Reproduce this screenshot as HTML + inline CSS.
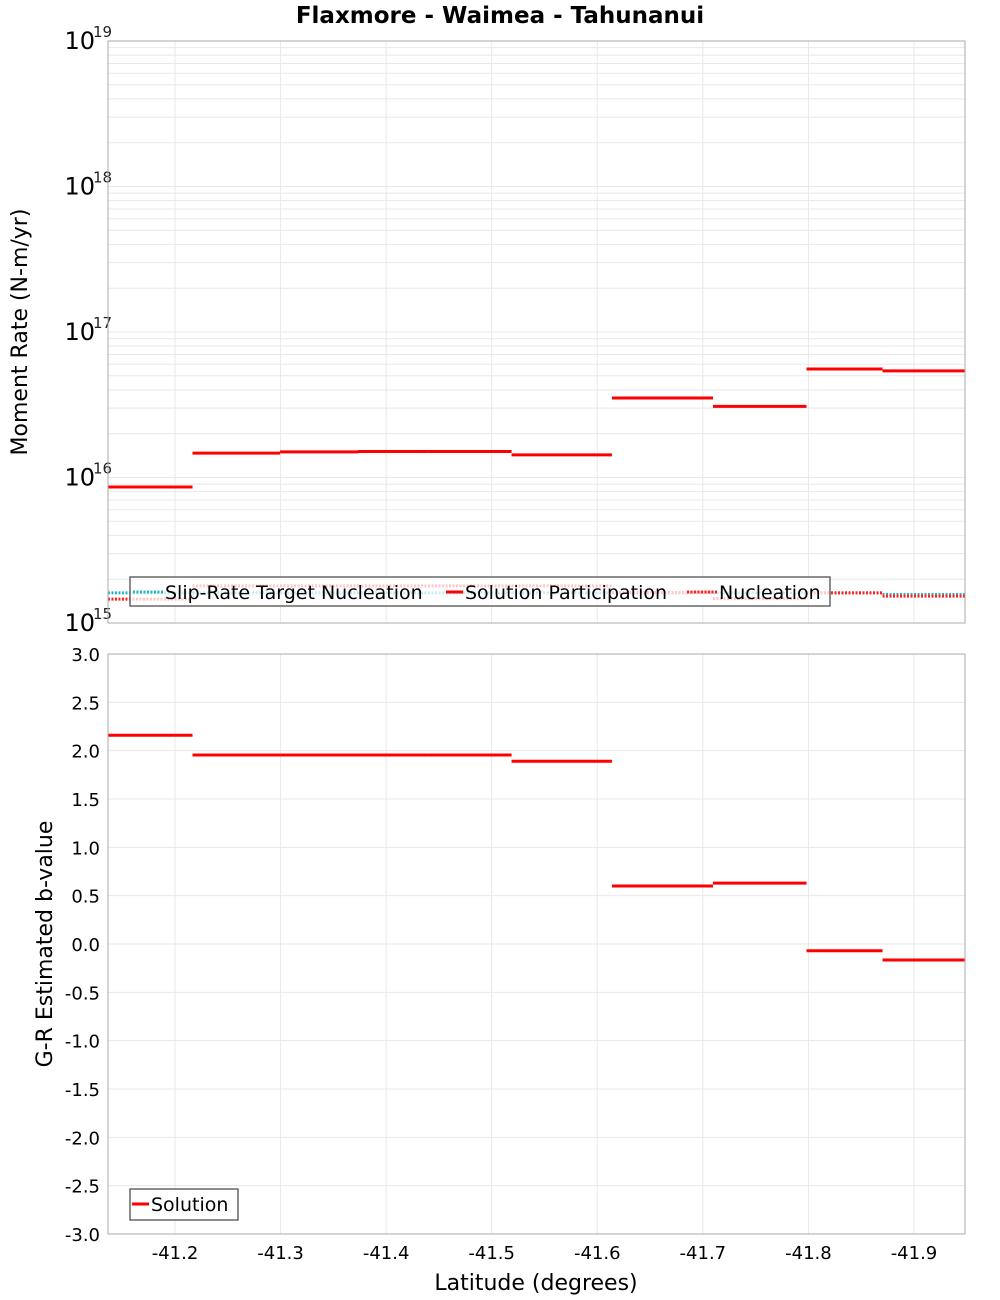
<!DOCTYPE html>
<html><head><meta charset="utf-8"><style>
body{margin:0;background:#fff;}
svg{display:block;font-family:"DejaVu Sans","Liberation Sans",sans-serif;}
</style></head><body>
<svg id="chart" width="1000" height="1300" xmlns="http://www.w3.org/2000/svg">
<text x="500" y="23" text-anchor="middle" font-size="23" font-weight="bold">Flaxmore - Waimea - Tahunanui</text>
<g id="topPlot"></g><g id="botPlot"></g>
<text transform="translate(27,332) rotate(-90)" text-anchor="middle" font-size="22">Moment Rate (N-m/yr)</text>
<text transform="translate(52,944) rotate(-90)" text-anchor="middle" font-size="22">G-R Estimated b-value</text>
<text x="536" y="1290" text-anchor="middle" font-size="22">Latitude (degrees)</text>
</svg>
<script>
const bounds=[-41.1365,-41.2166,-41.2995,-41.3733,-41.4397,-41.5188,-41.6139,-41.7096,-41.7982,-41.8702,-41.9483];
const participation=[8.6e15,1.47e16,1.50e16,1.51e16,1.51e16,1.43e16,3.52e16,3.08e16,5.57e16,5.4e16];
const targetNucleation=[1.61e15,1.61e15,1.61e15,1.61e15,1.61e15,1.61e15,1.61e15,1.61e15,1.61e15,1.57e15];
const nucleation=[1.46e15,1.8e15,1.8e15,1.8e15,1.8e15,1.8e15,1.62e15,1.47e15,1.61e15,1.53e15];
const bValues=[2.16,1.955,1.955,1.955,1.955,1.89,0.60,0.63,-0.07,-0.165];
const xTicks=[-41.2,-41.3,-41.4,-41.5,-41.6,-41.7,-41.8,-41.9];
const decades=[15,16,17,18,19];
const bTicks=[3,2.5,2,1.5,1,0.5,0,-0.5,-1,-1.5,-2,-2.5,-3];
const NS="http://www.w3.org/2000/svg";
const L=108,R=965;
const xs=v=>175+(-41.2-v)*1055.7;
const ysTop=v=>623-(Math.log10(v)-15)*145.5;
const ysBot=v=>654+(3-v)*96.667;
function mk(p,t,a){const e=document.createElementNS(NS,t);for(const k in a)e.setAttribute(k,a[k]);p.appendChild(e);return e;}
const topG=document.getElementById('topPlot'),botG=document.getElementById('botPlot');
for(let d=15;d<19;d++)for(let m=1;m<10;m++){const y=ysTop(m*Math.pow(10,d));
 const g=mk(topG,'line',{x1:L,x2:R,y1:y,y2:y,stroke:'#e8e8e8','stroke-width':1});
 
 }
xTicks.forEach(t=>{[[topG,41,623],[botG,654,1234]].forEach(([p,a,b])=>{const g=mk(p,'line',{x1:xs(t),x2:xs(t),y1:a,y2:b,stroke:'#e8e8e8'});
 
 });
 const tx=mk(botG,'text',{x:xs(t),y:1259,'text-anchor':'middle','font-size':18});tx.textContent=t.toFixed(1);
 
 });
decades.forEach(d=>{const y=ysTop(Math.pow(10,d));
 const tx=mk(topG,'text',{x:95,y:y+8,'text-anchor':'end','font-size':24});tx.textContent='10';
 
 
 const ex=mk(topG,'text',{x:93,y:y-4,'font-size':15,fill:'#222'});ex.textContent=String(d);
 
 });
bTicks.forEach(t=>{const y=ysBot(t);
 const g=mk(botG,'line',{x1:L,x2:R,y1:y,y2:y,stroke:'#e8e8e8'});
 
 
 const tx=mk(botG,'text',{x:100,y:y+7,'text-anchor':'end','font-size':18});tx.textContent=t.toFixed(1);
 
 });
function steps(p,vals,ys,attrs,name){vals.forEach((v,i)=>{const a=Object.assign({x1:xs(bounds[i]),x2:xs(bounds[i+1]),y1:ys(v),y2:ys(v)},attrs);
 const e=mk(p,'line',a);
 
 });}
steps(topG,targetNucleation,ysTop,{stroke:'#1fb8c0','stroke-width':3,'stroke-dasharray':'2 1.5'},'target-nucleation-segment');
steps(topG,nucleation,ysTop,{stroke:'#ff2020','stroke-width':3,'stroke-dasharray':'2 1.5'},'nucleation-segment');
steps(topG,participation,ysTop,{stroke:'#ff0000','stroke-width':3},'participation-segment');
steps(botG,bValues,ysBot,{stroke:'#ff0000','stroke-width':3},'b-value-segment');
[[topG,41,623],[botG,654,1234]].forEach(([p,a,b])=>{const r=mk(p,'rect',{x:L,y:a,width:R-L,height:b-a,fill:'none',stroke:'#aaa'});
 
 });
const lg=mk(topG,'g',{});


mk(lg,'rect',{x:130,y:577,width:700,height:29,fill:'rgba(255,255,255,0.75)',stroke:'#666','stroke-width':1.5});
mk(lg,'line',{x1:133,x2:163,y1:592,y2:592,stroke:'#1fb8c0','stroke-width':3,'stroke-dasharray':'2 1.5'});
let t1=mk(lg,'text',{x:165,y:599,'font-size':19});t1.textContent='Slip-Rate Target Nucleation';


mk(lg,'line',{x1:446,x2:463,y1:592,y2:592,stroke:'#ff0000','stroke-width':3});
let t2=mk(lg,'text',{x:465,y:599,'font-size':19});t2.textContent='Solution Participation';


mk(lg,'line',{x1:687,x2:717,y1:592,y2:592,stroke:'#ff2020','stroke-width':3,'stroke-dasharray':'2 1.5'});
let t3=mk(lg,'text',{x:719,y:599,'font-size':19});t3.textContent='Nucleation';


const lb=mk(botG,'g',{});


mk(lb,'rect',{x:130,y:1189,width:108,height:31,fill:'#fff',stroke:'#666','stroke-width':1.5});
mk(lb,'line',{x1:132,x2:149,y1:1204,y2:1204,stroke:'#ff0000','stroke-width':3});
let t4=mk(lb,'text',{x:151,y:1211,'font-size':19});t4.textContent='Solution';


</script>
</body></html>
